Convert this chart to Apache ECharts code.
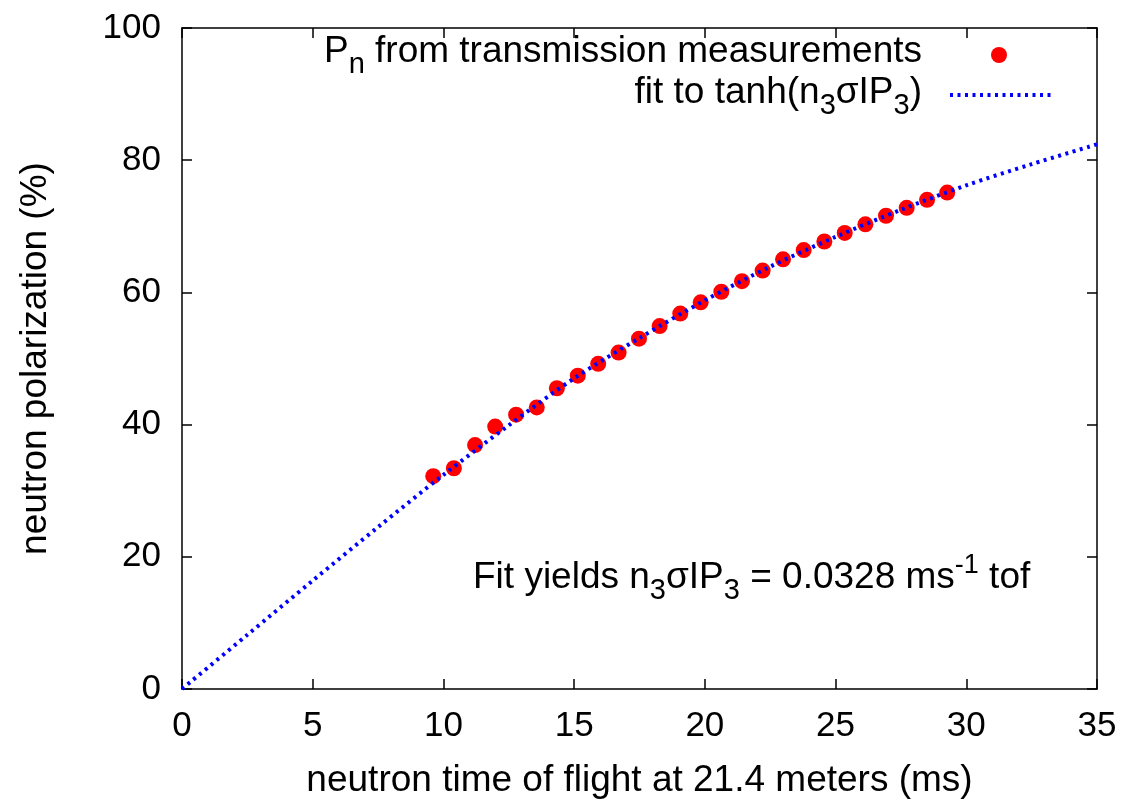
<!DOCTYPE html>
<html>
<head>
<meta charset="utf-8">
<script src="https://cdn.jsdelivr.net/npm/echarts@6/dist/echarts.min.js"></script>
<style>
  html, body { margin: 0; padding: 0; background: #fff; }
  #chart { width: 1129px; height: 805px; }
</style>
</head>
<body>
<div id="chart"></div>
<script>
// measured polarization (time of flight in ms, polarization in %)
var tofData = [9.61, 10.40, 11.21, 11.98, 12.78, 13.57, 14.34, 15.14, 15.92, 16.70,
               17.48, 18.27, 19.06, 19.84, 20.63, 21.42, 22.21, 22.99, 23.78, 24.57,
               25.35, 26.14, 26.93, 27.72, 28.50, 29.27];
var polData = [32.2, 33.4, 36.9, 39.7, 41.5, 42.6, 45.5, 47.4, 49.2, 50.9,
               53.0, 54.9, 56.8, 58.5, 60.1, 61.7, 63.3, 65.0, 66.4, 67.7,
               69.0, 70.3, 71.6, 72.8, 74.0, 75.1];
// fit curve
var fitX = [0, 2.5, 5, 7.5, 10, 12.5, 15, 17.5, 20, 22.5, 25, 27.5, 30, 32.5, 35];
var fitY = [0, 8.2, 16.4, 24.5, 32.4, 39.9, 47.0, 53.1, 58.8, 63.9, 68.4, 72.5, 76.2, 79.4, 82.4];

var font = 'Liberation Sans, Arial, sans-serif';
var myChart = echarts.init(document.getElementById('chart'));

// m = normal text, s = subscript, p = superscript (shifted with padding)
var richText = function (color) {
    return {
        m: { fontSize: 37, lineHeight: 42, color: color, fontFamily: font },
        s: { fontSize: 29, color: color, fontFamily: font, padding: [26, 0, 0, 0] },
        p: { fontSize: 27, color: color, fontFamily: font, padding: [0, 0, 24, 0] }
    }
}

var axisCommon = {
    type: 'value',
    axisLine: { show: true, onZero: false, lineStyle: { color: '#000', width: 1.5 } },
    axisTick: { show: true, inside: true, length: 10, lineStyle: { color: '#000', width: 1.5 } },
    splitLine: { show: false }
}

var option = {
    animation: false,
    backgroundColor: '#fff',
    grid: { left: 182, top: 28, right: 32, bottom: 116, outerBoundsMode: 'none' },
    xAxis: [
        Object.assign({}, axisCommon, {
            min: 0, max: 35, interval: 5,
            axisLabel: { color: '#000', fontSize: 35, fontFamily: font, margin: 20 },
            name: 'neutron time of flight at 21.4 meters (ms)',
            nameLocation: 'middle', nameGap: 73,
            nameTextStyle: { color: '#000', fontSize: 37, fontFamily: font }
        }),
        Object.assign({}, axisCommon, {
            position: 'top', min: 0, max: 35, interval: 5,
            axisLabel: { show: false }
        })
    ],
    yAxis: [
        Object.assign({}, axisCommon, {
            min: 0, max: 100, interval: 20,
            axisLabel: { color: '#000', fontSize: 35, fontFamily: font, margin: 21 },
            name: 'neutron polarization (%)',
            nameLocation: 'middle', nameGap: 128,
            nameTextStyle: { color: '#000', fontSize: 37, fontFamily: font }
        }),
        Object.assign({}, axisCommon, {
            position: 'right', min: 0, max: 100, interval: 20,
            axisLabel: { show: false }
        })
    ],
    series: [
        {
            name: 'Pn from transmission measurements',
            type: 'scatter',
            symbol: 'circle',
            symbolSize: 16,
            itemStyle: { color: '#ff0000', opacity: 1 },
            z: 2,
            data: tofData.map(function (t, i) { return [t, polData[i]] })
        },
        {
            name: 'fit',
            type: 'line',
            smooth: 0.3,
            showSymbol: false,
            lineStyle: { color: '#0000ff', width: 4, type: [3, 4.5] },
            z: 3,
            data: fitX.map(function (t, i) { return [t, fitY[i]] })
        }
    ],
    graphic: [
        {
            type: 'text', x: 922, y: 52, z: 10,
            style: {
                text: '{m|P}{s|n}{m| from transmission measurements}',
                rich: richText('#ff0000'), align: 'right', verticalAlign: 'middle'
            }
        },
        {
            type: 'circle', shape: { cx: 999, cy: 55, r: 8 }, z: 10,
            style: { fill: '#ff0000' }
        },
        {
            type: 'text', x: 922, y: 93, z: 10,
            style: {
                text: '{m|fit to tanh(n}{s|3}{m|σIP}{s|3}{m|)}',
                rich: richText('#0000ff'), align: 'right', verticalAlign: 'middle'
            }
        },
        {
            type: 'line', shape: { x1: 950, y1: 95, x2: 1055, y2: 95 }, z: 10,
            style: { stroke: '#0000ff', lineWidth: 4, lineDash: [3, 4.5] }
        },
        {
            type: 'text', x: 473, y: 578, z: 10,
            style: {
                text: '{m|Fit yields n}{s|3}{m|σIP}{s|3}{m| = 0.0328 ms}{p|-1}{m| tof}',
                rich: richText('#000'), align: 'left', verticalAlign: 'middle'
            }
        }
    ]
}
myChart.setOption(option);
</script>
</body>
</html>
